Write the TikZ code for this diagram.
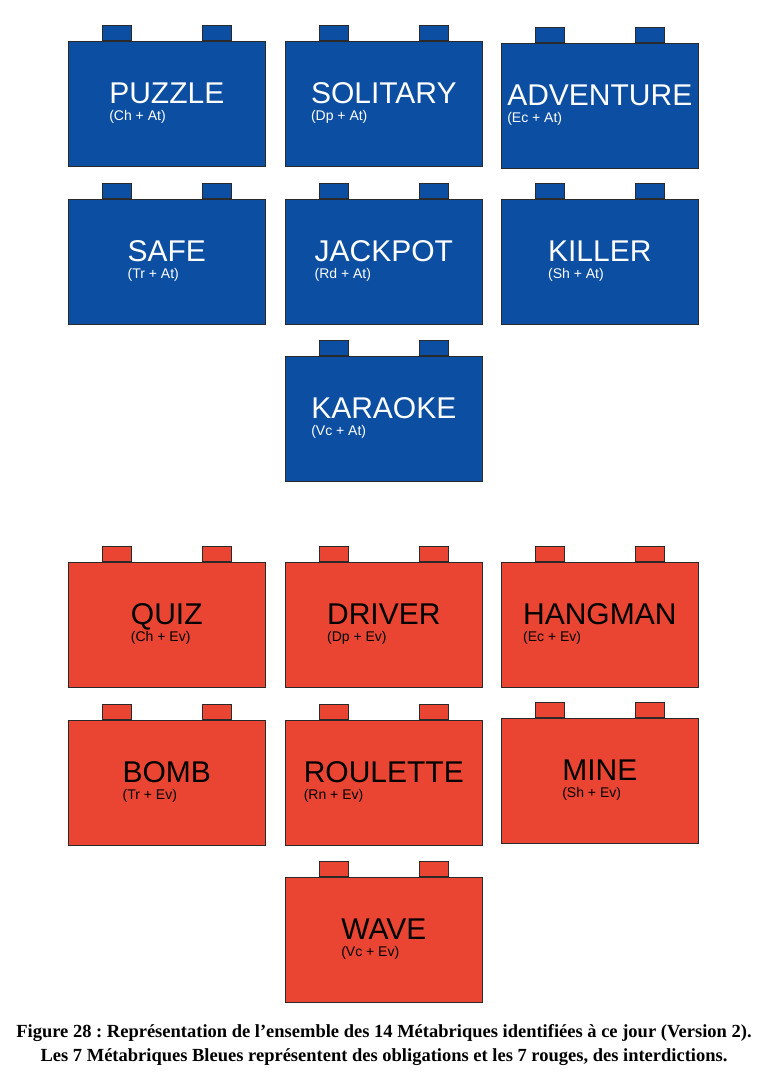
\documentclass[tikz,border=0pt]{standalone}
\usepackage{fontspec}
\setmainfont{Liberation Serif}
\newfontfamily\briquefont{Liberation Sans}
\usetikzlibrary{positioning}
\frenchspacing
\definecolor{blau}{HTML}{0C4EA2}
\definecolor{rot}{HTML}{E94532}
\definecolor{rand}{HTML}{2A2A2A}
\tikzset{
  brique/.style={draw=rand,line width=0.6pt,minimum width=197pt,minimum height=125pt,anchor=north west,inner sep=0pt},
  noppe/.style={draw=rand,line width=0.6pt,minimum width=29pt,minimum height=15pt,anchor=south west,inner sep=0pt},
  titel/.style={font=\briquefont\fontsize{30}{30}\selectfont,inner sep=0pt,anchor=base},
  formel/.style={font=\briquefont\fontsize{14}{14}\selectfont,inner sep=0pt,anchor=base west},
  legende/.style={font=\bfseries\fontsize{18.5}{18.5}\selectfont,inner sep=0pt,anchor=base},
}
\begin{document}
\begin{tikzpicture}[x=1pt,y=-1pt]
  \useasboundingbox (0,0) rectangle (768,1081);
  % Metabriques
  \foreach \nom/\px/\py/\form/\fb/\tf in {
      PUZZLE/68/41/Ch + At/blau/white, SOLITARY/285/41/Dp + At/blau/white,
      ADVENTURE/501/43/Ec + At/blau/white, SAFE/68/199/Tr + At/blau/white,
      JACKPOT/285/199/Rd + At/blau/white, KILLER/501/199/Sh + At/blau/white,
      KARAOKE/285/356/Vc + At/blau/white,
      QUIZ/68/562/Ch + Ev/rot/black, DRIVER/285/562/Dp + Ev/rot/black,
      HANGMAN/501/562/Ec + Ev/rot/black, BOMB/68/720/Tr + Ev/rot/black,
      ROULETTE/285/720/Rn + Ev/rot/black, MINE/501/718/Sh + Ev/rot/black,
      WAVE/285/877/Vc + Ev/rot/black}{
    \node[brique,fill=\fb] (\nom) at (\px,\py) {};
    \node[noppe,fill=\fb] (\nom-l) at ([xshift=34pt]\nom.north west) {};
    \node[noppe,fill=\fb] (\nom-r) at ([xshift=134pt]\nom.north west) {};
    \node[titel,text=\tf] (\nom-titel) at ([yshift=-62pt]\nom.north) {\nom};
    \node[formel,text=\tf] (\nom-formel) at ([yshift=-17.5pt]\nom-titel.base west) {(\form)};
  }
  % Legende
  \node[legende] (leg1) at (384,1037) {Figure 28 : Représentation de l’ensemble des 14 Métabriques identifiées à ce jour (Version 2).};
  \node[legende] (leg2) at (384,1061) {Les 7 Métabriques Bleues représentent des obligations et les 7 rouges, des interdictions.};
\end{tikzpicture}
\end{document}
